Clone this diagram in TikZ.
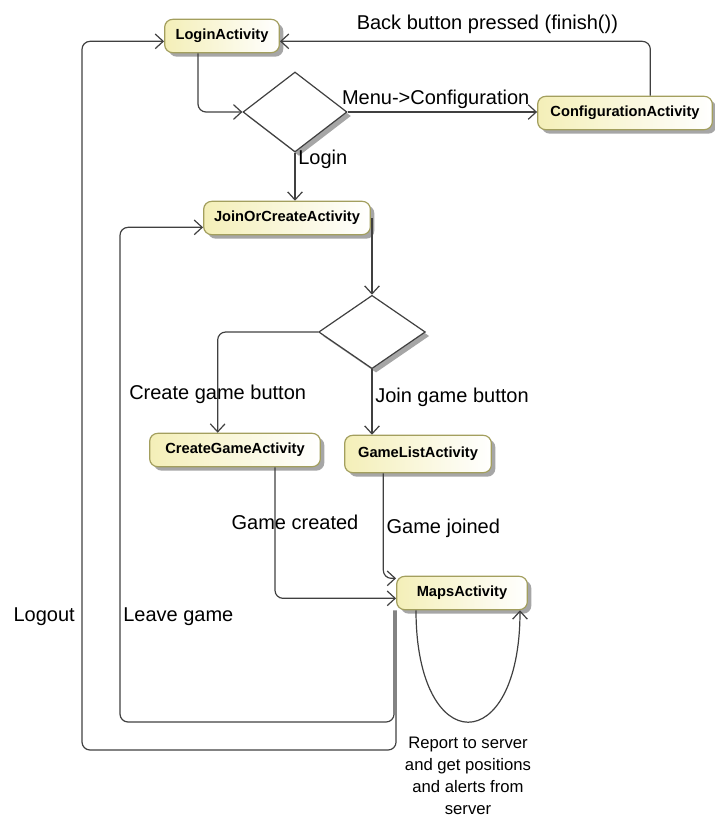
\documentclass[tikz,border=0pt]{standalone}
\usepackage{fontspec}
\setmainfont{Liberation Sans}
\usepackage{tikz}
\usetikzlibrary{positioning,arrows.meta,shapes.geometric,shadows}

\definecolor{actborder}{HTML}{A39F5E}
\definecolor{actfill}{HTML}{F4EFB8}
\definecolor{flowline}{HTML}{404040}

\begin{document}
\begin{tikzpicture}[x=0.75pt,y=-0.75pt,>={Straight Barb[length=6pt,width=11pt]}]
        \tikzstyle{activity}=[draw=actborder,line width=0.9pt,rounded corners=6pt,left color=actfill,right color=white,
                minimum height=25pt,font=\bfseries\fontsize{11}{13}\selectfont,
                drop shadow={shadow xshift=3pt,shadow yshift=-3pt,fill=black!35,opacity=1}]
        \tikzstyle{choice}=[diamond,draw=flowline,line width=0.9pt,fill=white,minimum width=78pt,minimum height=60pt,
                inner sep=0pt,drop shadow={shadow xshift=3pt,shadow yshift=-3pt,fill=black!35,opacity=1}]
        \tikzstyle{flow}=[->,draw=flowline,line width=0.9pt,rounded corners=6pt]
        \tikzstyle{lbl}=[font=\fontsize{15}{16.5}\selectfont,inner sep=2pt,text=black]
        \useasboundingbox (0,0) rectangle (714,824);

        \node[activity,minimum width=86pt] (Lg) at (222,36) {LoginActivity};
        \node[activity,minimum width=131pt] (Cf) at (625,113) {ConfigurationActivity};
        \node[activity,minimum width=125pt] (Jc) at (287,218) {JoinOrCreateActivity};
        \node[activity,minimum width=128pt] (Cg) at (235,450) {CreateGameActivity};
        \node[activity,minimum width=110pt,minimum height=28pt] (Gl) at (418,454) {GameListActivity};
        \node[activity,minimum width=98pt] (Mp) at (462,593) {MapsActivity};
        \node[choice] (D1) at (295,112) {};
        \node[choice,minimum width=80pt,minimum height=55pt] (D2) at (372,332) {};

        % bends of the two return paths
        \coordinate (outer) at (82,750);
        \coordinate (inner) at (120,722);

        \draw[flow] ([xshift=-18pt]Lg.south) |- (D1.west);
        \draw[flow] (D1.east) -- node[lbl,above,xshift=-5pt]{Menu->Configuration} (D1.east -| Cf.west);
        \draw[flow] ([xshift=19pt]Cf.north) |- node[lbl,above,pos=0.72,yshift=3pt]{Back button pressed (finish())} ([yshift=-4pt]Lg.east);
        \draw[flow] (D1.south) -- node[lbl,right,pos=0.15]{Login} (D1.south |- Jc.north);
        \draw[flow] (D2.north |- Jc.east) -- (D2.north);
        \draw[flow] (D2.west) -| node[lbl,pos=0.81]{Create game button} ([xshift=-13pt]Cg.north);
        \draw[flow] (D2.south) -- node[lbl,right,pos=0.43]{Join game button} (D2.south |- Gl.north);
        \draw[flow] ([xshift=30pt]Cg.south) |- node[lbl,pos=0.21,xshift=15pt]{Game created} ([yshift=-4pt]Mp.west);
        \draw[flow] ([xshift=-26pt]Gl.south) |- node[lbl,right,pos=0.26]{Game joined} ([yshift=11pt]Mp.west);
        \draw[flow] (Mp.south west) |- (outer) |- node[lbl,left,pos=0.094,xshift=-3pt]{Logout} ([yshift=-4pt]Lg.west);
        \draw[flow] ([xshift=-1.5pt]Mp.south west) |- (inner) |- node[lbl,right,pos=0.106]{Leave game} ([yshift=-7pt]Jc.west);
        \draw[flow] ([xshift=-34.5pt]Mp.south) .. controls +(0,149) and +(0,149) ..
                node[lbl,below,align=center,pos=0.5,yshift=-9pt,font=\fontsize{12.5}{16.5}\selectfont]{Report to server\\and get positions\\and alerts from\\server}
                ([xshift=43.5pt]Mp.south);
    \end{tikzpicture}
\end{document}
